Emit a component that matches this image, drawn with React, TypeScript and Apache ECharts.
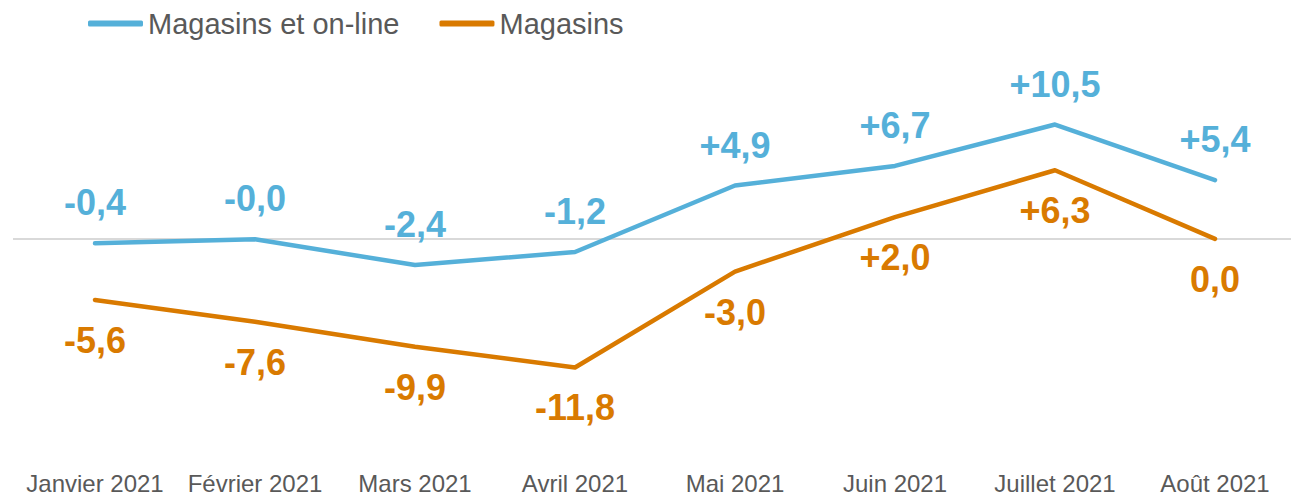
import React, { useEffect, useRef } from "react";
import * as echarts from "echarts";

const categories = [
  "Janvier 2021",
  "Février 2021",
  "Mars 2021",
  "Avril 2021",
  "Mai 2021",
  "Juin 2021",
  "Juillet 2021",
  "Août 2021",
];
const seriesNames = ["Magasins et on-line", "Magasins"];
const magasinsOnline = [-0.4, -0.03, -2.4, -1.2, 4.9, 6.7, 10.5, 5.4];
const magasins = [-5.6, -7.6, -9.9, -11.8, -3.0, 2.0, 6.3, 0.0];

const BLUE = "#55B0D9";
const ORANGE = "#D97A00";
const FONT = "'Liberation Sans', Arial, sans-serif";

function fmt(v: number): string {
  const s = Math.abs(v).toFixed(1).replace(".", ",");
  if (v > 0) return "+" + s;
  if (v < 0) return "-" + s;
  return s;
}

export default function App() {
  const ref = useRef<HTMLDivElement>(null);
  useEffect(() => {
    document.body.style.margin = "0";
    if (!ref.current) return;
    const chart = echarts.init(ref.current, undefined, { renderer: "svg" });
    chart.setOption({
      animation: false,
      backgroundColor: "#ffffff",
      legend: {
        left: 83,
        top: 4,
        icon: "roundRect",
        itemWidth: 55,
        itemHeight: 6,
        itemGap: 40,
        textStyle: { fontFamily: FONT, fontSize: 29, color: "#595959" },
        data: seriesNames,
      },
      grid: { left: 95, right: 76, top: 86.4, height: 348.8 },
      xAxis: {
        type: "category",
        data: categories,
        boundaryGap: false,
        axisLine: { show: false },
        axisTick: { show: false },
        axisLabel: {
          margin: 36,
          fontFamily: FONT,
          fontSize: 24,
          color: "#595959",
          interval: 0,
        },
      },
      yAxis: {
        type: "value",
        min: -18,
        max: 14,
        show: false,
        splitLine: { show: false },
      },
      series: [
        {
          name: seriesNames[0],
          type: "line",
          data: magasinsOnline,
          symbol: "circle",
          symbolSize: 1,
          clip: false,
          lineStyle: { color: BLUE, width: 4.5, cap: "round", join: "round" },
          itemStyle: { color: BLUE },
          z: 3,
          label: {
            show: true,
            position: "top",
            distance: 22,
            fontFamily: FONT,
            fontSize: 36,
            fontWeight: "bold",
            color: BLUE,
            formatter: (p: any) => fmt(p.value),
          },
          markLine: {
            silent: true,
            symbol: "none",
            z: 1,
            label: { show: false },
            lineStyle: { color: "#D9D9D9", width: 2, type: "solid" },
            data: [
              [
                { coord: [categories[0], 0], x: 13 },
                { coord: [categories[categories.length - 1], 0], x: 1291 },
              ],
            ],
          },
        },
        {
          name: seriesNames[1],
          type: "line",
          data: magasins,
          symbol: "circle",
          symbolSize: 1,
          lineStyle: { color: ORANGE, width: 4.5, cap: "round", join: "round" },
          itemStyle: { color: ORANGE },
          z: 3,
          label: {
            show: true,
            position: "bottom",
            distance: 22,
            fontFamily: FONT,
            fontSize: 36,
            fontWeight: "bold",
            color: ORANGE,
            formatter: (p: any) => fmt(p.value),
          },
        },
      ],
    });
    return () => chart.dispose();
  }, []);
  return <div ref={ref} style={{ width: 1291, height: 495 }} />;
}
